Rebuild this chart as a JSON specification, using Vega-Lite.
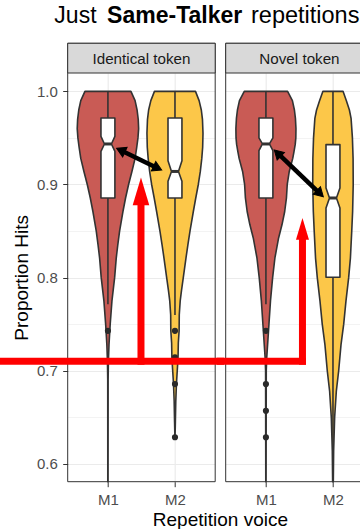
{
  "$schema": "https://vega.github.io/schema/vega-lite/v6.json",
  "autosize": {"type": "none"},
  "width": 292.3,
  "height": 408.7,
  "padding": {"left": 67.7, "top": 73, "right": 0, "bottom": 47.3},
  "config": {
    "font": "Liberation Sans",
    "view": {"stroke": null},
    "axis": {
      "domain": false,
      "tickColor": "#333333",
      "tickSize": 5,
      "tickWidth": 1,
      "labelFont": "Liberation Sans",
      "labelFontSize": 15,
      "labelColor": "#4D4D4D",
      "labelPadding": 5.4,
      "titleFont": "Liberation Sans",
      "titleFontSize": 19,
      "titleFontWeight": "normal",
      "titleColor": "#000000",
      "gridColor": "#EBEBEB"
    }
  },
  "data": {
    "values": [
      {"kind": "violin", "token": "Identical token", "voice": "M1", "y": 1.0, "l": 0.657, "r": 1.343},
      {"kind": "violin", "token": "Identical token", "voice": "M1", "y": 0.99, "l": 0.595, "r": 1.405},
      {"kind": "violin", "token": "Identical token", "voice": "M1", "y": 0.98, "l": 0.565, "r": 1.435},
      {"kind": "violin", "token": "Identical token", "voice": "M1", "y": 0.97, "l": 0.548, "r": 1.452},
      {"kind": "violin", "token": "Identical token", "voice": "M1", "y": 0.96, "l": 0.542, "r": 1.458},
      {"kind": "violin", "token": "Identical token", "voice": "M1", "y": 0.95, "l": 0.552, "r": 1.448},
      {"kind": "violin", "token": "Identical token", "voice": "M1", "y": 0.94, "l": 0.57, "r": 1.43},
      {"kind": "violin", "token": "Identical token", "voice": "M1", "y": 0.928, "l": 0.595, "r": 1.405},
      {"kind": "violin", "token": "Identical token", "voice": "M1", "y": 0.914, "l": 0.642, "r": 1.358},
      {"kind": "violin", "token": "Identical token", "voice": "M1", "y": 0.9, "l": 0.692, "r": 1.308},
      {"kind": "violin", "token": "Identical token", "voice": "M1", "y": 0.8855, "l": 0.737, "r": 1.263},
      {"kind": "violin", "token": "Identical token", "voice": "M1", "y": 0.871, "l": 0.776, "r": 1.224},
      {"kind": "violin", "token": "Identical token", "voice": "M1", "y": 0.85, "l": 0.826, "r": 1.174},
      {"kind": "violin", "token": "Identical token", "voice": "M1", "y": 0.835, "l": 0.853, "r": 1.147},
      {"kind": "violin", "token": "Identical token", "voice": "M1", "y": 0.821, "l": 0.876, "r": 1.124},
      {"kind": "violin", "token": "Identical token", "voice": "M1", "y": 0.8, "l": 0.9, "r": 1.1},
      {"kind": "violin", "token": "Identical token", "voice": "M1", "y": 0.775, "l": 0.94, "r": 1.06},
      {"kind": "violin", "token": "Identical token", "voice": "M1", "y": 0.75, "l": 0.966, "r": 1.034},
      {"kind": "violin", "token": "Identical token", "voice": "M1", "y": 0.728, "l": 0.984, "r": 1.016},
      {"kind": "violin", "token": "Identical token", "voice": "M1", "y": 0.71, "l": 0.993, "r": 1.007},
      {"kind": "violin", "token": "Identical token", "voice": "M1", "y": 0.69, "l": 0.997, "r": 1.003},
      {"kind": "violin", "token": "Identical token", "voice": "M1", "y": 0.5809, "l": 0.998, "r": 1.002},

      {"kind": "violin", "token": "Identical token", "voice": "M2", "y": 1.0, "l": 1.694, "r": 2.306},
      {"kind": "violin", "token": "Identical token", "voice": "M2", "y": 0.99, "l": 1.64, "r": 2.36},
      {"kind": "violin", "token": "Identical token", "voice": "M2", "y": 0.98, "l": 1.607, "r": 2.393},
      {"kind": "violin", "token": "Identical token", "voice": "M2", "y": 0.97, "l": 1.59, "r": 2.41},
      {"kind": "violin", "token": "Identical token", "voice": "M2", "y": 0.955, "l": 1.582, "r": 2.418},
      {"kind": "violin", "token": "Identical token", "voice": "M2", "y": 0.94, "l": 1.587, "r": 2.413},
      {"kind": "violin", "token": "Identical token", "voice": "M2", "y": 0.928, "l": 1.6, "r": 2.4},
      {"kind": "violin", "token": "Identical token", "voice": "M2", "y": 0.914, "l": 1.622, "r": 2.378},
      {"kind": "violin", "token": "Identical token", "voice": "M2", "y": 0.9, "l": 1.652, "r": 2.348},
      {"kind": "violin", "token": "Identical token", "voice": "M2", "y": 0.8855, "l": 1.69, "r": 2.31},
      {"kind": "violin", "token": "Identical token", "voice": "M2", "y": 0.871, "l": 1.726, "r": 2.274},
      {"kind": "violin", "token": "Identical token", "voice": "M2", "y": 0.85, "l": 1.776, "r": 2.224},
      {"kind": "violin", "token": "Identical token", "voice": "M2", "y": 0.835, "l": 1.808, "r": 2.192},
      {"kind": "violin", "token": "Identical token", "voice": "M2", "y": 0.821, "l": 1.836, "r": 2.164},
      {"kind": "violin", "token": "Identical token", "voice": "M2", "y": 0.8, "l": 1.876, "r": 2.124},
      {"kind": "violin", "token": "Identical token", "voice": "M2", "y": 0.786, "l": 1.903, "r": 2.097},
      {"kind": "violin", "token": "Identical token", "voice": "M2", "y": 0.775, "l": 1.922, "r": 2.078},
      {"kind": "violin", "token": "Identical token", "voice": "M2", "y": 0.76, "l": 1.936, "r": 2.064},
      {"kind": "violin", "token": "Identical token", "voice": "M2", "y": 0.743, "l": 1.938, "r": 2.062},
      {"kind": "violin", "token": "Identical token", "voice": "M2", "y": 0.73, "l": 1.95, "r": 2.05},
      {"kind": "violin", "token": "Identical token", "voice": "M2", "y": 0.714, "l": 1.954, "r": 2.046},
      {"kind": "violin", "token": "Identical token", "voice": "M2", "y": 0.7, "l": 1.966, "r": 2.034},
      {"kind": "violin", "token": "Identical token", "voice": "M2", "y": 0.686, "l": 1.978, "r": 2.022},
      {"kind": "violin", "token": "Identical token", "voice": "M2", "y": 0.667, "l": 1.988, "r": 2.012},
      {"kind": "violin", "token": "Identical token", "voice": "M2", "y": 0.645, "l": 1.994, "r": 2.006},
      {"kind": "violin", "token": "Identical token", "voice": "M2", "y": 0.6286, "l": 1.999, "r": 2.001},

      {"kind": "violin", "token": "Novel token", "voice": "M1", "y": 1.0, "l": 0.677, "r": 1.323},
      {"kind": "violin", "token": "Novel token", "voice": "M1", "y": 0.99, "l": 0.605, "r": 1.395},
      {"kind": "violin", "token": "Novel token", "voice": "M1", "y": 0.98, "l": 0.575, "r": 1.425},
      {"kind": "violin", "token": "Novel token", "voice": "M1", "y": 0.971, "l": 0.56, "r": 1.44},
      {"kind": "violin", "token": "Novel token", "voice": "M1", "y": 0.96, "l": 0.552, "r": 1.448},
      {"kind": "violin", "token": "Novel token", "voice": "M1", "y": 0.95, "l": 0.554, "r": 1.446},
      {"kind": "violin", "token": "Novel token", "voice": "M1", "y": 0.943, "l": 0.563, "r": 1.437},
      {"kind": "violin", "token": "Novel token", "voice": "M1", "y": 0.935, "l": 0.582, "r": 1.418},
      {"kind": "violin", "token": "Novel token", "voice": "M1", "y": 0.928, "l": 0.6, "r": 1.4},
      {"kind": "violin", "token": "Novel token", "voice": "M1", "y": 0.914, "l": 0.652, "r": 1.348},
      {"kind": "violin", "token": "Novel token", "voice": "M1", "y": 0.9, "l": 0.682, "r": 1.318},
      {"kind": "violin", "token": "Novel token", "voice": "M1", "y": 0.8855, "l": 0.694, "r": 1.306},
      {"kind": "violin", "token": "Novel token", "voice": "M1", "y": 0.871, "l": 0.72, "r": 1.28},
      {"kind": "violin", "token": "Novel token", "voice": "M1", "y": 0.857, "l": 0.76, "r": 1.24},
      {"kind": "violin", "token": "Novel token", "voice": "M1", "y": 0.8426, "l": 0.811, "r": 1.189},
      {"kind": "violin", "token": "Novel token", "voice": "M1", "y": 0.8211, "l": 0.866, "r": 1.134},
      {"kind": "violin", "token": "Novel token", "voice": "M1", "y": 0.8, "l": 0.9, "r": 1.1},
      {"kind": "violin", "token": "Novel token", "voice": "M1", "y": 0.775, "l": 0.932, "r": 1.068},
      {"kind": "violin", "token": "Novel token", "voice": "M1", "y": 0.75, "l": 0.955, "r": 1.045},
      {"kind": "violin", "token": "Novel token", "voice": "M1", "y": 0.728, "l": 0.975, "r": 1.025},
      {"kind": "violin", "token": "Novel token", "voice": "M1", "y": 0.714, "l": 0.988, "r": 1.012},
      {"kind": "violin", "token": "Novel token", "voice": "M1", "y": 0.7, "l": 0.995, "r": 1.005},
      {"kind": "violin", "token": "Novel token", "voice": "M1", "y": 0.5809, "l": 0.998, "r": 1.002},

      {"kind": "violin", "token": "Novel token", "voice": "M2", "y": 1.0, "l": 1.85, "r": 2.15},
      {"kind": "violin", "token": "Novel token", "voice": "M2", "y": 0.99, "l": 1.8, "r": 2.2},
      {"kind": "violin", "token": "Novel token", "voice": "M2", "y": 0.98, "l": 1.755, "r": 2.245},
      {"kind": "violin", "token": "Novel token", "voice": "M2", "y": 0.971, "l": 1.73, "r": 2.27},
      {"kind": "violin", "token": "Novel token", "voice": "M2", "y": 0.95, "l": 1.71, "r": 2.29},
      {"kind": "violin", "token": "Novel token", "voice": "M2", "y": 0.928, "l": 1.7, "r": 2.3},
      {"kind": "violin", "token": "Novel token", "voice": "M2", "y": 0.9, "l": 1.698, "r": 2.302},
      {"kind": "violin", "token": "Novel token", "voice": "M2", "y": 0.871, "l": 1.707, "r": 2.293},
      {"kind": "violin", "token": "Novel token", "voice": "M2", "y": 0.85, "l": 1.72, "r": 2.28},
      {"kind": "violin", "token": "Novel token", "voice": "M2", "y": 0.821, "l": 1.74, "r": 2.26},
      {"kind": "violin", "token": "Novel token", "voice": "M2", "y": 0.8, "l": 1.766, "r": 2.234},
      {"kind": "violin", "token": "Novel token", "voice": "M2", "y": 0.775, "l": 1.806, "r": 2.194},
      {"kind": "violin", "token": "Novel token", "voice": "M2", "y": 0.75, "l": 1.84, "r": 2.16},
      {"kind": "violin", "token": "Novel token", "voice": "M2", "y": 0.728, "l": 1.88, "r": 2.12},
      {"kind": "violin", "token": "Novel token", "voice": "M2", "y": 0.7, "l": 1.915, "r": 2.085},
      {"kind": "violin", "token": "Novel token", "voice": "M2", "y": 0.678, "l": 1.95, "r": 2.05},
      {"kind": "violin", "token": "Novel token", "voice": "M2", "y": 0.65, "l": 1.975, "r": 2.025},
      {"kind": "violin", "token": "Novel token", "voice": "M2", "y": 0.614, "l": 1.99, "r": 2.01},
      {"kind": "violin", "token": "Novel token", "voice": "M2", "y": 0.5809, "l": 1.995, "r": 2.005},

      {"kind": "box", "token": "Identical token", "voice": "M1", "y": 0.8855, "l": 0.896, "r": 1.104},
      {"kind": "box", "token": "Identical token", "voice": "M1", "y": 0.9356, "l": 0.896, "r": 1.104},
      {"kind": "box", "token": "Identical token", "voice": "M1", "y": 0.9435, "l": 0.948, "r": 1.052},
      {"kind": "box", "token": "Identical token", "voice": "M1", "y": 0.9517, "l": 0.896, "r": 1.104},
      {"kind": "box", "token": "Identical token", "voice": "M1", "y": 0.9714, "l": 0.896, "r": 1.104},
      {"kind": "box", "token": "Identical token", "voice": "M2", "y": 0.8855, "l": 1.896, "r": 2.104},
      {"kind": "box", "token": "Identical token", "voice": "M2", "y": 0.9034, "l": 1.896, "r": 2.104},
      {"kind": "box", "token": "Identical token", "voice": "M2", "y": 0.914, "l": 1.948, "r": 2.052},
      {"kind": "box", "token": "Identical token", "voice": "M2", "y": 0.9256, "l": 1.896, "r": 2.104},
      {"kind": "box", "token": "Identical token", "voice": "M2", "y": 0.9714, "l": 1.896, "r": 2.104},
      {"kind": "box", "token": "Novel token", "voice": "M1", "y": 0.8855, "l": 0.896, "r": 1.104},
      {"kind": "box", "token": "Novel token", "voice": "M1", "y": 0.9363, "l": 0.896, "r": 1.104},
      {"kind": "box", "token": "Novel token", "voice": "M1", "y": 0.9435, "l": 0.948, "r": 1.052},
      {"kind": "box", "token": "Novel token", "voice": "M1", "y": 0.95, "l": 0.896, "r": 1.104},
      {"kind": "box", "token": "Novel token", "voice": "M1", "y": 0.9714, "l": 0.896, "r": 1.104},
      {"kind": "box", "token": "Novel token", "voice": "M2", "y": 0.8004, "l": 1.896, "r": 2.104},
      {"kind": "box", "token": "Novel token", "voice": "M2", "y": 0.8748, "l": 1.896, "r": 2.104},
      {"kind": "box", "token": "Novel token", "voice": "M2", "y": 0.8855, "l": 1.948, "r": 2.052},
      {"kind": "box", "token": "Novel token", "voice": "M2", "y": 0.8962, "l": 1.896, "r": 2.104},
      {"kind": "box", "token": "Novel token", "voice": "M2", "y": 0.9428, "l": 1.896, "r": 2.104},

      {"kind": "median", "token": "Identical token", "voice": "M1", "x": 0.948, "x2": 1.052, "y": 0.9435, "y2": 0.9435},
      {"kind": "median", "token": "Identical token", "voice": "M2", "x": 1.948, "x2": 2.052, "y": 0.914, "y2": 0.914},
      {"kind": "median", "token": "Novel token", "voice": "M1", "x": 0.948, "x2": 1.052, "y": 0.9435, "y2": 0.9435},
      {"kind": "median", "token": "Novel token", "voice": "M2", "x": 1.948, "x2": 2.052, "y": 0.8855, "y2": 0.8855},

      {"kind": "whisker", "token": "Identical token", "voice": "M1", "x": 1, "x2": 1, "y": 0.9714, "y2": 1.0},
      {"kind": "whisker", "token": "Identical token", "voice": "M1", "x": 1, "x2": 1, "y": 0.8855, "y2": 0.7714},
      {"kind": "whisker", "token": "Identical token", "voice": "M2", "x": 2, "x2": 2, "y": 0.9714, "y2": 1.0},
      {"kind": "whisker", "token": "Identical token", "voice": "M2", "x": 2, "x2": 2, "y": 0.8855, "y2": 0.76},
      {"kind": "whisker", "token": "Novel token", "voice": "M1", "x": 1, "x2": 1, "y": 0.9714, "y2": 1.0},
      {"kind": "whisker", "token": "Novel token", "voice": "M1", "x": 1, "x2": 1, "y": 0.8855, "y2": 0.7714},
      {"kind": "whisker", "token": "Novel token", "voice": "M2", "x": 2, "x2": 2, "y": 0.9428, "y2": 1.0},
      {"kind": "whisker", "token": "Novel token", "voice": "M2", "x": 2, "x2": 2, "y": 0.8004, "y2": 0.5809},

      {"kind": "outlier", "token": "Identical token", "voice": "M1", "x": 1, "y": 0.7429},
      {"kind": "outlier", "token": "Identical token", "voice": "M2", "x": 2, "y": 0.7429},
      {"kind": "outlier", "token": "Identical token", "voice": "M2", "x": 2, "y": 0.7143},
      {"kind": "outlier", "token": "Identical token", "voice": "M2", "x": 2, "y": 0.6857},
      {"kind": "outlier", "token": "Identical token", "voice": "M2", "x": 2, "y": 0.6286},
      {"kind": "outlier", "token": "Novel token", "voice": "M1", "x": 1, "y": 0.7429},
      {"kind": "outlier", "token": "Novel token", "voice": "M1", "x": 1, "y": 0.6857},
      {"kind": "outlier", "token": "Novel token", "voice": "M1", "x": 1, "y": 0.6571},
      {"kind": "outlier", "token": "Novel token", "voice": "M1", "x": 1, "y": 0.6286},

      {"kind": "blackLine", "token": "Identical token", "o": 1, "x": 1.198, "y": 0.9365},
      {"kind": "blackLine", "token": "Identical token", "o": 2, "x": 1.735, "y": 0.9178},
      {"kind": "blackLine", "token": "Novel token", "o": 1, "x": 1.179, "y": 0.9333},
      {"kind": "blackLine", "token": "Novel token", "o": 2, "x": 1.802, "y": 0.8905},
      {"kind": "blackHead", "token": "Identical token", "end": "a", "x": 1.131, "y": 0.9388},
      {"kind": "blackHead", "token": "Identical token", "end": "b", "x": 1.802, "y": 0.9155},
      {"kind": "blackHead", "token": "Novel token", "end": "a", "x": 1.125, "y": 0.937},
      {"kind": "blackHead", "token": "Novel token", "end": "b", "x": 1.856, "y": 0.8868},

      {"kind": "red", "token": "Identical token", "x": -1.5, "x2": 2.68, "y": 0.7103, "y2": 0.7103},
      {"kind": "red", "token": "Identical token", "x": 1.493, "x2": 1.493, "y": 0.7103, "y2": 0.885},
      {"kind": "red", "token": "Novel token", "x": 0.32, "x2": 1.545, "y": 0.7103, "y2": 0.7103},
      {"kind": "red", "token": "Novel token", "x": 1.545, "x2": 1.545, "y": 0.7103, "y2": 0.847},
      {"kind": "redHead", "token": "Identical token", "x": 1.493, "y": 0.9074},
      {"kind": "redHead", "token": "Novel token", "x": 1.545, "y": 0.864},

      {"kind": "strip", "token": "Identical token"},
      {"kind": "strip", "token": "Novel token"}
    ]
  },
  "resolve": {"scale": {"x": "independent"}, "axis": {"x": "independent"}},
  "layer": [
    {
      "transform": [{"filter": "datum.kind == 'violin' && datum.token == 'Identical token'"}],
      "mark": {"type": "area", "orient": "horizontal", "stroke": "#333333", "strokeWidth": 1.6, "strokeJoin": "round", "opacity": 1},
      "encoding": {
        "y": {
          "field": "y", "type": "quantitative", "title": "Proportion Hits",
          "scale": {"domain": [0.5809, 1.0197], "nice": false, "zero": false},
          "axis": {
            "title": "Proportion Hits",
            "values": [0.6, 0.65, 0.7, 0.75, 0.8, 0.85, 0.9, 0.95, 1.0],
            "labelExpr": "(round(datum.value * 100) % 10 == 0) ? format(datum.value, '.1f') : ''",
            "tickOpacity": {"condition": {"test": "round(datum.value * 100) % 10 == 0", "value": 1}, "value": 0},
            "gridWidth": {"condition": {"test": "round(datum.value * 100) % 10 == 0", "value": 1.2}, "value": 0.6},
            "titleX": -35.7,
            "titleY": 204.35,
            "titleAngle": 270,
            "titleBaseline": "bottom",
            "titleAlign": "center",
            "grid": true
          }
        },
        "x": {
          "field": "l", "type": "quantitative", "title": null,
          "scale": {"domain": [0.4, 4.7597], "nice": false, "zero": false},
          "axis": {"orient": "bottom", "title": null, "values": [1, 2], "labelExpr": "datum.value == 1 ? 'M1' : 'M2'", "gridWidth": 1.2, "grid": true}
        },
        "x2": {"field": "r"},
        "color": {"field": "voice", "type": "nominal", "scale": {"domain": ["M1", "M2"], "range": ["#C95B55", "#FCC749"]}, "legend": null}
      }
    },
    {
      "transform": [{"filter": "datum.kind == 'box' && datum.token == 'Identical token'"}],
      "mark": {"type": "area", "orient": "horizontal", "fill": "#FFFFFF", "stroke": "#333333", "strokeWidth": 1.6, "strokeJoin": "round", "opacity": 1},
      "encoding": {
        "y": {"field": "y", "type": "quantitative"},
        "x": {"field": "l", "type": "quantitative", "scale": {"domain": [0.4, 4.7597], "nice": false, "zero": false}, "axis": null},
        "x2": {"field": "r"},
        "detail": {"field": "voice", "type": "nominal"}
      }
    },
    {
      "transform": [{"filter": "(datum.kind == 'whisker' || datum.kind == 'median') && datum.token == 'Identical token'"}],
      "mark": {"type": "rule", "stroke": "#333333"},
      "encoding": {
        "x": {"field": "x", "type": "quantitative", "scale": {"domain": [0.4, 4.7597], "nice": false, "zero": false}, "axis": null},
        "x2": {"field": "x2"},
        "y": {"field": "y", "type": "quantitative"},
        "y2": {"field": "y2"},
        "strokeWidth": {"condition": {"test": "datum.kind == 'median'", "value": 3}, "value": 1.6}
      }
    },
    {
      "transform": [{"filter": "datum.kind == 'outlier' && datum.token == 'Identical token'"}],
      "mark": {"type": "point", "shape": "circle", "filled": true, "color": "#2A2A2A", "size": 38, "opacity": 1},
      "encoding": {
        "x": {"field": "x", "type": "quantitative", "scale": {"domain": [0.4, 4.7597], "nice": false, "zero": false}, "axis": null},
        "y": {"field": "y", "type": "quantitative"}
      }
    },
    {
      "transform": [{"filter": "datum.kind == 'blackLine' && datum.token == 'Identical token'"}],
      "mark": {"type": "line", "color": "#000000", "strokeWidth": 4.5, "strokeCap": "butt"},
      "encoding": {
        "x": {"field": "x", "type": "quantitative", "scale": {"domain": [0.4, 4.7597], "nice": false, "zero": false}, "axis": null},
        "y": {"field": "y", "type": "quantitative"},
        "order": {"field": "o", "type": "quantitative"}
      }
    },
    {
      "transform": [{"filter": "datum.kind == 'blackHead' && datum.token == 'Identical token'"}],
      "mark": {"type": "point", "shape": "M0,0L0.58,1L-0.58,1Z", "filled": true, "color": "#000000", "stroke": "#000000", "strokeWidth": 1, "size": 324, "opacity": 1},
      "encoding": {
        "x": {"field": "x", "type": "quantitative", "scale": {"domain": [0.4, 4.7597], "nice": false, "zero": false}, "axis": null},
        "y": {"field": "y", "type": "quantitative"},
        "angle": {"condition": {"test": "datum.end == 'a'", "value": 295}, "value": 115}
      }
    },
    {
      "transform": [{"filter": "datum.kind == 'violin' && datum.token == 'Novel token'"}],
      "mark": {"type": "area", "orient": "horizontal", "stroke": "#333333", "strokeWidth": 1.6, "strokeJoin": "round", "opacity": 1},
      "encoding": {
        "y": {"field": "y", "type": "quantitative"},
        "x": {
          "field": "l", "type": "quantitative", "title": null,
          "scale": {"domain": [-1.9566, 2.4031], "nice": false, "zero": false},
          "axis": {"orient": "bottom", "title": null, "values": [1, 2], "labelExpr": "datum.value == 1 ? 'M1' : 'M2'", "gridWidth": 1.2, "grid": true}
        },
        "x2": {"field": "r"},
        "color": {"field": "voice", "type": "nominal", "scale": {"domain": ["M1", "M2"], "range": ["#C95B55", "#FCC749"]}, "legend": null}
      }
    },
    {
      "transform": [{"filter": "datum.kind == 'box' && datum.token == 'Novel token'"}],
      "mark": {"type": "area", "orient": "horizontal", "fill": "#FFFFFF", "stroke": "#333333", "strokeWidth": 1.6, "strokeJoin": "round", "opacity": 1},
      "encoding": {
        "y": {"field": "y", "type": "quantitative"},
        "x": {"field": "l", "type": "quantitative", "scale": {"domain": [-1.9566, 2.4031], "nice": false, "zero": false}, "axis": null},
        "x2": {"field": "r"},
        "detail": {"field": "voice", "type": "nominal"}
      }
    },
    {
      "transform": [{"filter": "(datum.kind == 'whisker' || datum.kind == 'median') && datum.token == 'Novel token'"}],
      "mark": {"type": "rule", "stroke": "#333333"},
      "encoding": {
        "x": {"field": "x", "type": "quantitative", "scale": {"domain": [-1.9566, 2.4031], "nice": false, "zero": false}, "axis": null},
        "x2": {"field": "x2"},
        "y": {"field": "y", "type": "quantitative"},
        "y2": {"field": "y2"},
        "strokeWidth": {"condition": {"test": "datum.kind == 'median'", "value": 3}, "value": 1.6}
      }
    },
    {
      "transform": [{"filter": "datum.kind == 'outlier' && datum.token == 'Novel token'"}],
      "mark": {"type": "point", "shape": "circle", "filled": true, "color": "#2A2A2A", "size": 38, "opacity": 1},
      "encoding": {
        "x": {"field": "x", "type": "quantitative", "scale": {"domain": [-1.9566, 2.4031], "nice": false, "zero": false}, "axis": null},
        "y": {"field": "y", "type": "quantitative"}
      }
    },
    {
      "transform": [{"filter": "datum.kind == 'blackLine' && datum.token == 'Novel token'"}],
      "mark": {"type": "line", "color": "#000000", "strokeWidth": 4.5, "strokeCap": "butt"},
      "encoding": {
        "x": {"field": "x", "type": "quantitative", "scale": {"domain": [-1.9566, 2.4031], "nice": false, "zero": false}, "axis": null},
        "y": {"field": "y", "type": "quantitative"},
        "order": {"field": "o", "type": "quantitative"}
      }
    },
    {
      "transform": [{"filter": "datum.kind == 'blackHead' && datum.token == 'Novel token'"}],
      "mark": {"type": "point", "shape": "M0,0L0.58,1L-0.58,1Z", "filled": true, "color": "#000000", "stroke": "#000000", "strokeWidth": 1, "size": 324, "opacity": 1},
      "encoding": {
        "x": {"field": "x", "type": "quantitative", "scale": {"domain": [-1.9566, 2.4031], "nice": false, "zero": false}, "axis": null},
        "y": {"field": "y", "type": "quantitative"},
        "angle": {"condition": {"test": "datum.end == 'a'", "value": 314}, "value": 134}
      }
    },
    {
      "transform": [{"filter": "datum.kind == 'strip' && datum.token == 'Identical token'"}],
      "mark": {"type": "rect", "fill": "#FFFFFF"},
      "encoding": {
        "x": {"datum": 2.6, "type": "quantitative", "scale": {"domain": [0.4, 4.7597], "nice": false, "zero": false}, "axis": null},
        "x2": {"datum": 2.7566},
        "y": {"datum": 0.5809, "type": "quantitative"},
        "y2": {"datum": 1.0197}
      }
    },
    {
      "transform": [{"filter": "datum.kind == 'strip' && datum.token == 'Identical token'"}],
      "mark": {"type": "rect", "fill": "transparent", "stroke": "#333333", "strokeWidth": 1},
      "encoding": {
        "x": {"datum": 0.4, "type": "quantitative", "scale": {"domain": [0.4, 4.7597], "nice": false, "zero": false}, "axis": null},
        "x2": {"datum": 2.6},
        "y": {"datum": 0.5809, "type": "quantitative"},
        "y2": {"datum": 1.0516}
      }
    },
    {
      "transform": [{"filter": "datum.kind == 'strip' && datum.token == 'Novel token'"}],
      "mark": {"type": "rect", "fill": "transparent", "stroke": "#333333", "strokeWidth": 1},
      "encoding": {
        "x": {"datum": 0.4, "type": "quantitative", "scale": {"domain": [-1.9566, 2.4031], "nice": false, "zero": false}, "axis": null},
        "x2": {"datum": 2.6},
        "y": {"datum": 0.5809, "type": "quantitative"},
        "y2": {"datum": 1.0516}
      }
    },
    {
      "transform": [{"filter": "datum.kind == 'strip' && datum.token == 'Identical token'"}],
      "mark": {"type": "rect", "fill": "#D9D9D9", "stroke": "#333333", "strokeWidth": 1},
      "encoding": {
        "x": {"datum": 0.4, "type": "quantitative", "scale": {"domain": [0.4, 4.7597], "nice": false, "zero": false}, "axis": null},
        "x2": {"datum": 2.6},
        "y": {"datum": 1.0516, "type": "quantitative"},
        "y2": {"datum": 1.0197}
      }
    },
    {
      "transform": [{"filter": "datum.kind == 'strip' && datum.token == 'Identical token'"}],
      "mark": {"type": "text", "fontSize": 15.2, "color": "#1A1A1A", "align": "center", "baseline": "alphabetic"},
      "encoding": {
        "x": {"datum": 1.5, "type": "quantitative", "scale": {"domain": [0.4, 4.7597], "nice": false, "zero": false}, "axis": null},
        "y": {"datum": 1.029, "type": "quantitative"},
        "text": {"field": "token", "type": "nominal"}
      }
    },
    {
      "transform": [{"filter": "datum.kind == 'strip' && datum.token == 'Novel token'"}],
      "mark": {"type": "rect", "fill": "#D9D9D9", "stroke": "#333333", "strokeWidth": 1},
      "encoding": {
        "x": {"datum": 0.4, "type": "quantitative", "scale": {"domain": [-1.9566, 2.4031], "nice": false, "zero": false}, "axis": null},
        "x2": {"datum": 2.6},
        "y": {"datum": 1.0516, "type": "quantitative"},
        "y2": {"datum": 1.0197}
      }
    },
    {
      "transform": [{"filter": "datum.kind == 'strip' && datum.token == 'Novel token'"}],
      "mark": {"type": "text", "fontSize": 15.2, "color": "#1A1A1A", "align": "center", "baseline": "alphabetic"},
      "encoding": {
        "x": {"datum": 1.5, "type": "quantitative", "scale": {"domain": [-1.9566, 2.4031], "nice": false, "zero": false}, "axis": null},
        "y": {"datum": 1.029, "type": "quantitative"},
        "text": {"field": "token", "type": "nominal"}
      }
    },
    {
      "transform": [{"filter": "datum.kind == 'red' && datum.token == 'Identical token'"}],
      "mark": {"type": "rule", "color": "#FF0000", "strokeWidth": 7, "strokeCap": "square"},
      "encoding": {
        "x": {"field": "x", "type": "quantitative", "scale": {"domain": [0.4, 4.7597], "nice": false, "zero": false}, "axis": null},
        "x2": {"field": "x2"},
        "y": {"field": "y", "type": "quantitative"},
        "y2": {"field": "y2"}
      }
    },
    {
      "transform": [{"filter": "datum.kind == 'redHead' && datum.token == 'Identical token'"}],
      "mark": {"type": "point", "shape": "M0,0L0.3,1L-0.3,1Z", "filled": true, "color": "#FF0000", "size": 3069, "opacity": 1},
      "encoding": {
        "x": {"field": "x", "type": "quantitative", "scale": {"domain": [0.4, 4.7597], "nice": false, "zero": false}, "axis": null},
        "y": {"field": "y", "type": "quantitative"}
      }
    },
    {
      "transform": [{"filter": "datum.kind == 'red' && datum.token == 'Novel token'"}],
      "mark": {"type": "rule", "color": "#FF0000", "strokeWidth": 7, "strokeCap": "square"},
      "encoding": {
        "x": {"field": "x", "type": "quantitative", "scale": {"domain": [-1.9566, 2.4031], "nice": false, "zero": false}, "axis": null},
        "x2": {"field": "x2"},
        "y": {"field": "y", "type": "quantitative"},
        "y2": {"field": "y2"}
      }
    },
    {
      "transform": [{"filter": "datum.kind == 'redHead' && datum.token == 'Novel token'"}],
      "mark": {"type": "point", "shape": "M0,0L0.3,1L-0.3,1Z", "filled": true, "color": "#FF0000", "size": 1884, "opacity": 1},
      "encoding": {
        "x": {"field": "x", "type": "quantitative", "scale": {"domain": [-1.9566, 2.4031], "nice": false, "zero": false}, "axis": null},
        "y": {"field": "y", "type": "quantitative"}
      }
    },
    {
      "transform": [{"filter": "datum.kind == 'strip' && datum.token == 'Identical token'"}],
      "mark": {"type": "text", "text": "Just", "fontSize": 23, "color": "#000000", "align": "right", "baseline": "alphabetic"},
      "encoding": {
        "x": {"datum": 0.83, "type": "quantitative", "scale": {"domain": [0.4, 4.7597], "nice": false, "zero": false}, "axis": null},
        "y": {"datum": 1.0737, "type": "quantitative"}
      }
    },
    {
      "transform": [{"filter": "datum.kind == 'strip' && datum.token == 'Identical token'"}],
      "mark": {"type": "text", "text": "Same-Talker", "fontSize": 23, "fontWeight": "bold", "color": "#000000", "align": "center", "baseline": "alphabetic"},
      "encoding": {
        "x": {"datum": 1.995, "type": "quantitative", "scale": {"domain": [0.4, 4.7597], "nice": false, "zero": false}, "axis": null},
        "y": {"datum": 1.0737, "type": "quantitative"}
      }
    },
    {
      "transform": [{"filter": "datum.kind == 'strip' && datum.token == 'Identical token'"}],
      "mark": {"type": "text", "text": "repetitions", "fontSize": 23.5, "color": "#000000", "align": "left", "baseline": "alphabetic"},
      "encoding": {
        "x": {"datum": 3.134, "type": "quantitative", "scale": {"domain": [0.4, 4.7597], "nice": false, "zero": false}, "axis": null},
        "y": {"datum": 1.0737, "type": "quantitative"}
      }
    },
    {
      "transform": [{"filter": "datum.kind == 'strip' && datum.token == 'Identical token'"}],
      "mark": {"type": "text", "text": "Repetition voice", "fontSize": 19, "color": "#000000", "align": "center", "baseline": "alphabetic"},
      "encoding": {
        "x": {"datum": 2.678, "type": "quantitative", "scale": {"domain": [0.4, 4.7597], "nice": false, "zero": false}, "axis": null},
        "y": {"datum": 0.5333, "type": "quantitative"}
      }
    }
  ]
}
